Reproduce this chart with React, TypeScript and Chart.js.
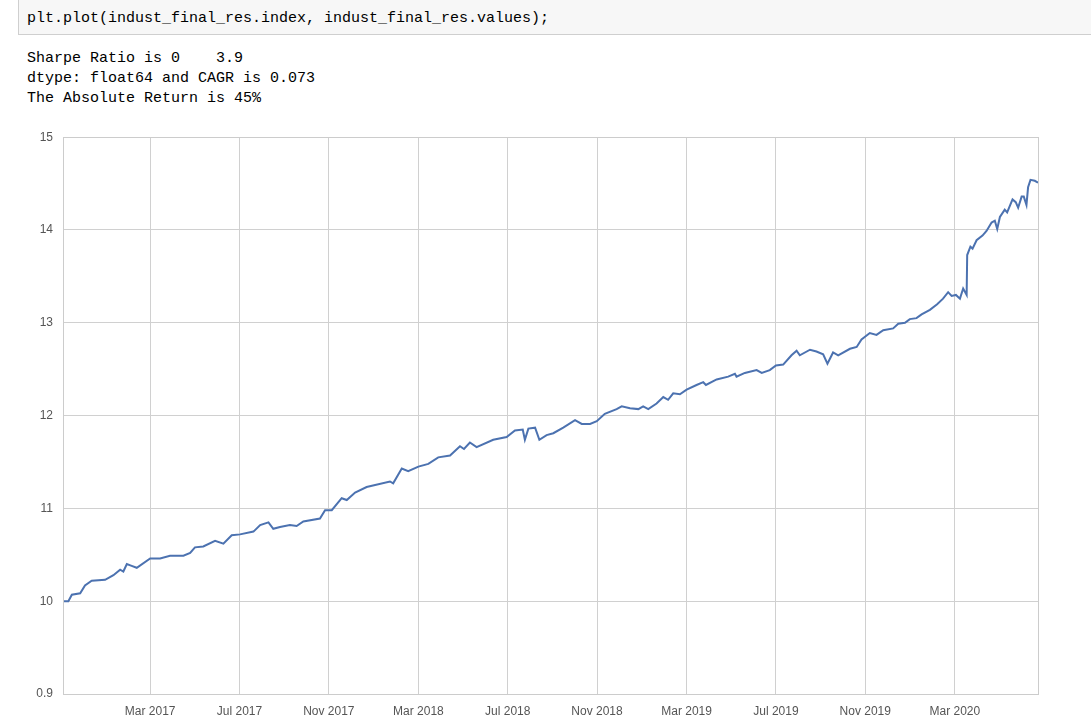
import React, { useEffect, useRef } from "react";
import { Chart, registerables } from "chart.js";

Chart.register(...registerables);

// Dates as decimal years
const dates = [
  2016.841, 2016.862, 2016.875, 2016.906, 2016.924, 2016.949, 2016.999, 2017.030, 2017.055, 2017.067,
  2017.080, 2017.098, 2017.117, 2017.167, 2017.204, 2017.241, 2017.291, 2017.316, 2017.334, 2017.365,
  2017.409, 2017.440, 2017.471, 2017.502, 2017.552, 2017.577, 2017.608, 2017.626, 2017.651, 2017.688,
  2017.713, 2017.738, 2017.800, 2017.819, 2017.844, 2017.881, 2017.900, 2017.931, 2017.974, 2018.061,
  2018.073, 2018.105, 2018.129, 2018.167, 2018.204, 2018.241, 2018.285, 2018.322, 2018.337, 2018.359,
  2018.384, 2018.446, 2018.496, 2018.527, 2018.556, 2018.564, 2018.577, 2018.602, 2018.618, 2018.645,
  2018.670, 2018.707, 2018.751, 2018.776, 2018.807, 2018.832, 2018.862, 2018.906, 2018.925, 2018.956,
  2018.987, 2019.005, 2019.024, 2019.055, 2019.080, 2019.098, 2019.117, 2019.142, 2019.167, 2019.204,
  2019.229, 2019.239, 2019.279, 2019.322, 2019.347, 2019.353, 2019.384, 2019.428, 2019.447, 2019.477,
  2019.500, 2019.527, 2019.558, 2019.577, 2019.589, 2019.627, 2019.651, 2019.676, 2019.692, 2019.713,
  2019.732, 2019.776, 2019.801, 2019.819, 2019.850, 2019.875, 2019.900, 2019.937, 2019.956, 2019.981,
  2019.999, 2020.024, 2020.043, 2020.074, 2020.101, 2020.123, 2020.142, 2020.155, 2020.171, 2020.186,
  2020.198, 2020.211, 2020.213, 2020.225, 2020.233, 2020.248, 2020.270, 2020.285, 2020.304, 2020.316,
  2020.325, 2020.335, 2020.353, 2020.362, 2020.382, 2020.394, 2020.403, 2020.416, 2020.424, 2020.434,
  2020.440, 2020.449, 2020.465, 2020.477,
];

const values = [
  10.00, 10.00, 10.07, 10.085, 10.17, 10.22, 10.23, 10.28, 10.34, 10.32,
  10.40, 10.38, 10.36, 10.46, 10.46, 10.49, 10.49, 10.52, 10.58, 10.59,
  10.65, 10.62, 10.71, 10.72, 10.75, 10.82, 10.85, 10.78, 10.80, 10.82,
  10.81, 10.86, 10.89, 10.98, 10.98, 11.11, 11.09, 11.17, 11.23, 11.29,
  11.27, 11.43, 11.40, 11.45, 11.48, 11.55, 11.57, 11.67, 11.64, 11.71,
  11.66, 11.74, 11.77, 11.84, 11.85, 11.74, 11.86, 11.87, 11.74, 11.79,
  11.81, 11.87, 11.95, 11.91, 11.91, 11.94, 12.02, 12.07, 12.10, 12.08,
  12.07, 12.10, 12.07, 12.13, 12.20, 12.17, 12.24, 12.23, 12.28, 12.33,
  12.36, 12.33, 12.39, 12.42, 12.45, 12.42, 12.46, 12.49, 12.46, 12.49,
  12.54, 12.55, 12.65, 12.70, 12.65, 12.71, 12.69, 12.66, 12.56, 12.68,
  12.65, 12.72, 12.74, 12.82, 12.89, 12.87, 12.92, 12.94, 12.99, 13.00,
  13.04, 13.05, 13.09, 13.14, 13.20, 13.26, 13.33, 13.29, 13.30, 13.26,
  13.37, 13.30, 13.73, 13.82, 13.80, 13.89, 13.94, 13.99, 14.08, 14.10,
  14.01, 14.14, 14.22, 14.19, 14.33, 14.30, 14.24, 14.36, 14.36, 14.27,
  14.46, 14.54, 14.53, 14.51,
];

const xTickValues = [2017.167, 2017.5, 2017.833, 2018.167, 2018.5, 2018.833, 2019.167, 2019.5, 2019.833, 2020.167];
const xTickLabels = ["Mar 2017", "Jul 2017", "Nov 2017", "Mar 2018", "Jul 2018", "Nov 2018", "Mar 2019", "Jul 2019", "Nov 2019", "Mar 2020"];
const yTickValues = [9, 10, 11, 12, 13, 14, 15];
const yTickLabels = ["0.9", "10", "11", "12", "13", "14", "15"];

const codeLine = "plt.plot(indust_final_res.index, indust_final_res.values);";
const outputLines = [
  "Sharpe Ratio is 0    3.9",
  "dtype: float64 and CAGR is 0.073",
  "The Absolute Return is 45%",
];

const frameBox = {
  id: "frameBox",
  afterDraw(chart: any) {
    const { ctx, chartArea } = chart;
    ctx.save();
    ctx.strokeStyle = "#cccccc";
    ctx.lineWidth = 1;
    ctx.strokeRect(
      Math.round(chartArea.left) + 0.5,
      Math.round(chartArea.top) + 0.5,
      Math.round(chartArea.right - chartArea.left),
      Math.round(chartArea.bottom - chartArea.top)
    );
    ctx.restore();
  },
};

function LineChart() {
  const ref = useRef<HTMLCanvasElement | null>(null);
  useEffect(() => {
    if (!ref.current) return;
    const chart = new Chart(ref.current, {
      type: "line",
      data: {
        datasets: [
          {
            data: dates.map((d, i) => ({ x: d, y: values[i] })),
            borderColor: "#4c72b0",
            borderWidth: 2,
            pointRadius: 0,
            tension: 0,
            fill: false,
          },
        ],
      },
      options: {
        animation: false,
        responsive: false,
        maintainAspectRatio: false,
        layout: { padding: { left: 0, right: 22, top: 0, bottom: 0 } },
        plugins: { legend: { display: false }, tooltip: { enabled: false } },
        scales: {
          x: {
            type: "linear",
            min: 2016.842,
            max: 2020.477,
            afterBuildTicks: (scale: any) => {
              scale.ticks = xTickValues.map((v) => ({ value: v }));
            },
            afterFit: (scale: any) => {
              scale.height = 28;
            },
            ticks: {
              autoSkip: false,
              maxRotation: 0,
              padding: 10,
              color: "#555555",
              font: { family: "'Liberation Sans', Arial, sans-serif", size: 12 },
              callback: (_v: any, i: number) => xTickLabels[i],
            },
            grid: { color: "#d0d0d0", lineWidth: 1, drawTicks: false },
            border: { display: true, color: "#cccccc" },
          },
          y: {
            type: "linear",
            min: 9,
            max: 15,
            afterBuildTicks: (scale: any) => {
              scale.ticks = yTickValues.map((v) => ({ value: v }));
            },
            afterFit: (scale: any) => {
              scale.width = 63;
            },
            ticks: {
              padding: 10,
              color: "#555555",
              font: { family: "'Liberation Sans', Arial, sans-serif", size: 12 },
              callback: (_v: any, i: number) => yTickLabels[i],
            },
            grid: { color: "#d0d0d0", lineWidth: 1, drawTicks: false },
            border: { display: true, color: "#cccccc" },
          },
        },
      },
      plugins: [frameBox],
    });
    return () => chart.destroy();
  }, []);
  return (
    <canvas
      ref={ref}
      width={1060}
      height={602}
      style={{ position: "absolute", left: 0, top: 120, width: 1060, height: 602 }}
    />
  );
}

export default function App() {
  const mono = "'Liberation Mono', 'DejaVu Sans Mono', monospace";
  return (
    <div style={{ position: "fixed", left: 0, top: 0, width: 1091, height: 722, background: "#ffffff", overflow: "hidden" }}>
      <div
        style={{
          position: "absolute",
          left: 18,
          top: -1,
          width: 1100,
          height: 36,
          background: "#f7f7f7",
          border: "1px solid #cfcfcf",
          boxSizing: "border-box",
        }}
      />
      <div
        style={{
          position: "absolute",
          left: 27,
          top: 9,
          fontFamily: mono,
          fontSize: 15,
          lineHeight: "20px",
          color: "#000",
          whiteSpace: "pre",
        }}
      >
        {codeLine}
      </div>
      <div
        style={{
          position: "absolute",
          left: 27,
          top: 49,
          fontFamily: mono,
          fontSize: 15,
          lineHeight: "20px",
          color: "#000",
          whiteSpace: "pre",
        }}
      >
        {outputLines.map((l, i) => (
          <div key={i}>{l}</div>
        ))}
      </div>
      <LineChart />
    </div>
  );
}
